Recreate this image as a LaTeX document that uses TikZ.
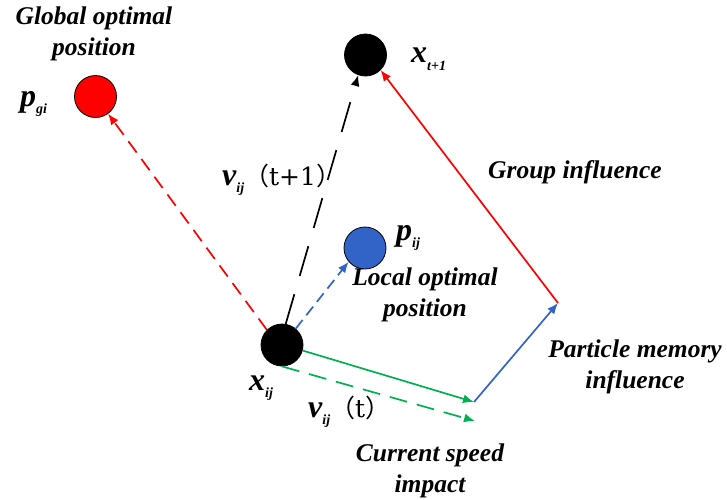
\documentclass[tikz,border=0pt]{standalone}
\usepackage{fontspec}
\setmainfont{Liberation Serif}
\newfontfamily\cjk{Noto Sans CJK SC}
\newfontfamily\dvs{DejaVu Serif}
\usetikzlibrary{arrows.meta}
\definecolor{myred}{RGB}{255,0,0}
\definecolor{myblue}{RGB}{50,100,200}
\definecolor{mygreen}{RGB}{0,176,80}
\tikzset{
  dot/.style={circle,draw=black,line width=0.8pt,minimum size=42pt,inner sep=0pt},
  lbl/.style={font=\fontsize{25.5}{31}\selectfont\bfseries\itshape,align=center,inner sep=0pt},
  sym/.style={font=\fontsize{32}{32}\selectfont\bfseries\itshape,inner sep=0pt,anchor=base west},
  vec/.style={line width=1.7pt,-{Latex[length=11pt,width=9pt]}},
}
\newcommand{\subf}[1]{{\fontsize{14}{14}\selectfont #1}}
\newcommand{\parf}[1]{{\fontsize{25}{25}\selectfont\mdseries\upshape{\cjk （}{\dvs #1}{\cjk ）}}}
\begin{document}
\begin{tikzpicture}[x=1pt,y=-1pt]
\useasboundingbox (0,0) rectangle (727,499);
% circles
\node[dot,fill=red] (pgi) at (95.5,96.5) {};
\node[dot,fill=black] (xt) at (365.5,55) {};
\node[dot,fill=myblue] (pij) at (365,248) {};
\node[dot,fill=black] (xij) at (282,345) {};
\coordinate (A) at (474,402);
\coordinate (B) at (558,303);
\coordinate (C) at (475,421);
% connectors
\draw[vec,myred,dash pattern=on 14pt off 8pt] (xij.135) -- (pgi);
\draw[vec,black,dash pattern=on 31pt off 19pt] (xij.80) -- (xt.250);
\draw[vec,myblue,dash pattern=on 11pt off 6pt] (xij.50) -- (pij.220);
\draw[vec,mygreen] (xij.-15) -- (A);
\draw[vec,mygreen,dash pattern=on 18pt off 10pt] (xij.270) -- (C);
\draw[vec,myblue] (A) -- (B);
\draw[vec,myred] (B) -- (xt.-45);
% labels
\node[lbl] (tg) at (94,34) {Global optimal\\position};
\node[sym] (tpgi) at (20,106) {p\subf{\raisebox{-7pt}{gi}}};
\node[sym] (txt) at (411,62) {x\subf{\raisebox{-8pt}{t+1}}};
\node[sym] (tpij) at (396,240) {p\subf{\raisebox{-7pt}{ij}}};
\node[sym] (txij) at (249,390) {x\subf{\raisebox{-7pt}{ij}}};
\node[sym] (tv1) at (222,185) {v\subf{\raisebox{-7pt}{ij}}\parf{t+1}};
\node[sym] (tv0) at (308,417) {v\subf{\raisebox{-7pt}{ij}}\parf{t}};
\node[lbl] (tl) at (425,295) {Local optimal\\position};
\node[lbl] (tgi) at (575,172) {Group influence};
\node[lbl] (tpm) at (635,367) {Particle memory\\influence};
\node[lbl] (tc) at (430,471) {Current speed\\impact};
\end{tikzpicture}
\end{document}
